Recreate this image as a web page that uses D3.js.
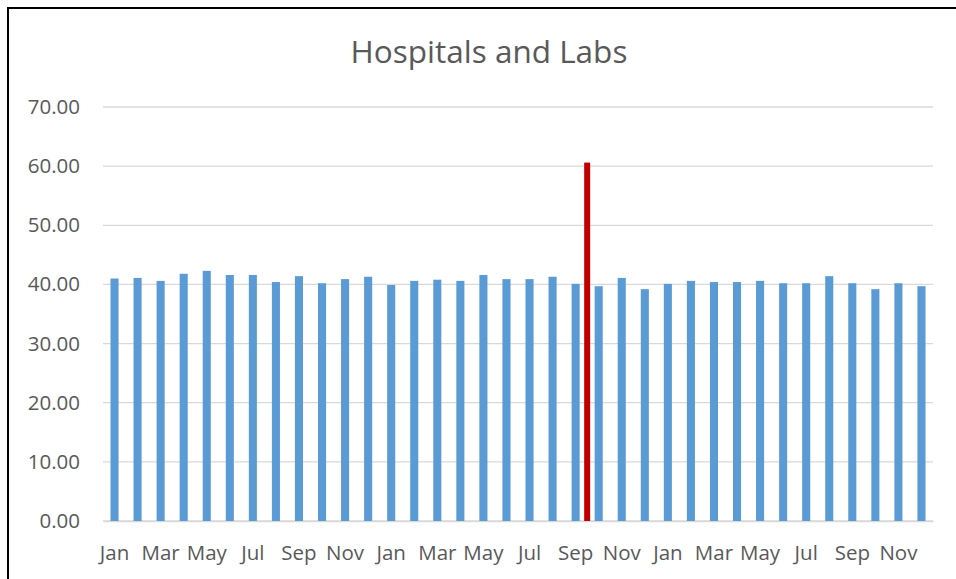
<!DOCTYPE html>
<html>
<head>
<meta charset="utf-8">
<script src="https://d3js.org/d3.v7.min.js"></script>
<style>
  body { margin: 0; background: #fff; }
  text { font-family: "Open Sans", sans-serif; fill: #595959; }
</style>
</head>
<body>
<div id="chart"></div>
<script>
// chart data
const monthNames = ["Jan", "Feb", "Mar", "Apr", "May", "Jun", "Jul", "Aug", "Sep", "Oct", "Nov", "Dec"];
const months = [...monthNames, ...monthNames, ...monthNames];
const values = [
  41.0, 41.1, 40.6, 41.8, 42.3, 41.6, 41.6, 40.4, 41.4, 40.2, 40.9, 41.3,
  39.9, 40.6, 40.8, 40.6, 41.6, 40.9, 40.9, 41.3, 40.1, 39.7, 41.1, 39.2,
  40.1, 40.6, 40.4, 40.4, 40.6, 40.2, 40.2, 41.4, 40.2, 39.2, 40.2, 39.7
];
const yTicks = [0, 10, 20, 30, 40, 50, 60, 70];
// red marker sits between two months (after index 20 = second Sep)
const markerAfter = 20;
const markerValue = 60.6;

const width = 956, height = 579;
const margin = { top: 107, right: 23, bottom: 58, left: 103 };

const svg = d3.select("#chart").append("svg")
  .attr("width", width)
  .attr("height", height);

// chart frame (runs off the right/bottom edges)
svg.append("rect")
  .attr("x", 8).attr("y", 8)
  .attr("width", 980).attr("height", 620)
  .attr("fill", "#fff")
  .attr("stroke", "#000")
  .attr("stroke-width", 2);

const x = d3.scaleBand()
  .domain(d3.range(values.length))
  .range([margin.left, width - margin.right])
  .paddingInner(0.65)
  .paddingOuter(0.325);

const y = d3.scaleLinear()
  .domain([0, 70])
  .range([height - margin.bottom, margin.top]);

// gridlines
svg.append("g")
  .selectAll("line")
  .data(yTicks)
  .join("line")
  .attr("x1", margin.left)
  .attr("x2", width - margin.right)
  .attr("y1", d => y(d))
  .attr("y2", d => y(d))
  .attr("stroke", "#d9d9d9")
  .attr("stroke-width", 1.3);

// y axis labels
const yAxis = svg.append("g")
  .attr("transform", `translate(${margin.left},0)`)
  .call(d3.axisLeft(y).tickValues(yTicks).tickFormat(d3.format(".2f")).tickSize(0).tickPadding(23));
yAxis.select(".domain").remove();
yAxis.selectAll("text")
  .attr("font-size", 20.5)
  .attr("font-family", "Open Sans")
  .attr("fill", "#595959");

// x axis labels (every other month)
const xAxis = svg.append("g")
  .attr("transform", `translate(0,${y(0)})`)
  .call(d3.axisBottom(x)
    .tickValues(d3.range(0, values.length, 2))
    .tickFormat(i => months[i])
    .tickSize(0)
    .tickPadding(24));
xAxis.select(".domain")
  .attr("stroke", "#d9d9d9")
  .attr("stroke-width", 1.3);
xAxis.selectAll("text")
  .attr("font-size", 20.5)
  .attr("font-family", "Open Sans")
  .attr("fill", "#595959");

// bars
svg.append("g")
  .selectAll("rect")
  .data(values)
  .join("rect")
  .attr("x", (d, i) => x(i))
  .attr("y", d => y(d))
  .attr("width", x.bandwidth())
  .attr("height", d => y(0) - y(d))
  .attr("fill", "#5b9bd5");

// red marker between months
const markerX = x(markerAfter) + x.bandwidth() / 2 + x.step() / 2;
svg.append("rect")
  .attr("x", markerX - 3)
  .attr("y", y(markerValue))
  .attr("width", 6)
  .attr("height", y(0) - y(markerValue))
  .attr("fill", "#c00000");

// title
svg.append("text")
  .attr("x", 489)
  .attr("y", 63)
  .attr("text-anchor", "middle")
  .attr("font-size", 31.5)
  .attr("fill", "#595959")
  .text("Hospitals and Labs");
</script>
</body>
</html>
